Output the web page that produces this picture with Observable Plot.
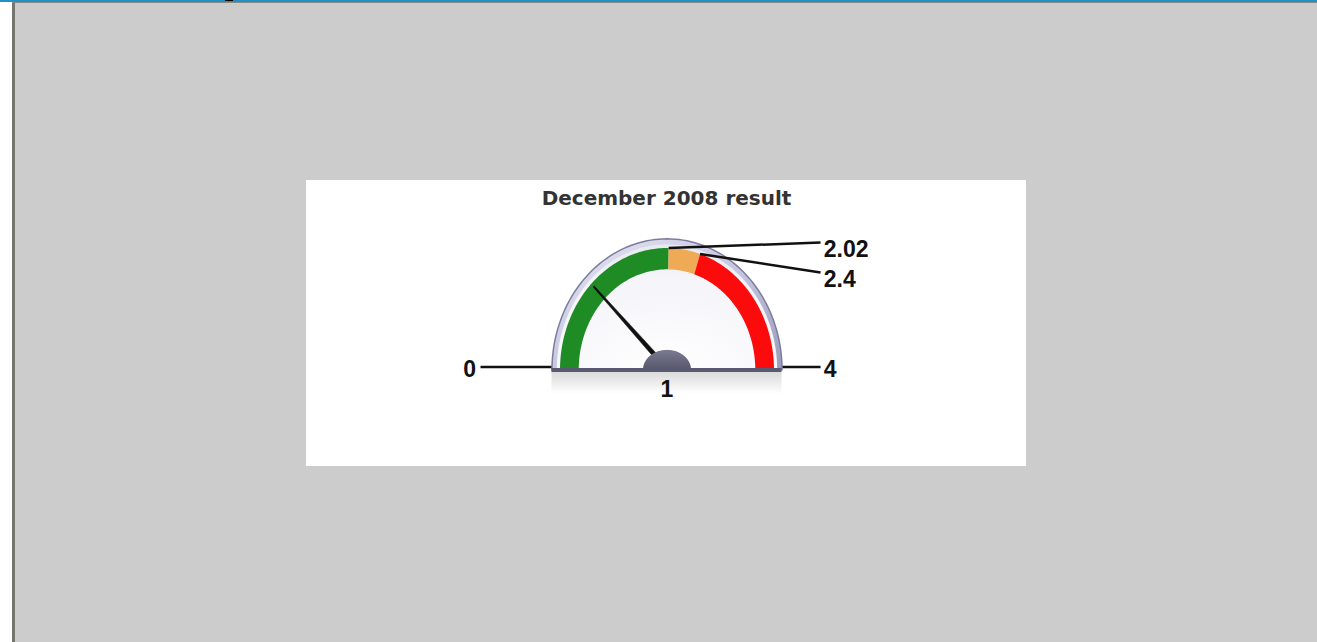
<!DOCTYPE html>
<html>
<head>
<meta charset="utf-8">
<script src="https://cdn.jsdelivr.net/npm/d3@7"></script>
<script src="https://cdn.jsdelivr.net/npm/@observablehq/plot@0.6"></script>
<style>
  html, body { margin: 0; padding: 0; background: #ffffff; }
  body { width: 1317px; height: 642px; position: relative; overflow: hidden; }
  #topbar { position: absolute; left: 0; top: 0; width: 1317px; height: 2px; background: #2190c6; }
  #topbar2 { position: absolute; left: 12px; top: 2px; width: 1305px; height: 1px; background: #8a8a84; }
  #frame { position: absolute; left: 12px; top: 3px; width: 1302px; height: 639px; background: #cccccc; border-left: 3px solid #76766e; }
  #frag { position: absolute; left: 225px; top: 0; width: 8px; height: 1px; background: #000; }
  #chart { position: absolute; left: 306px; top: 180px; width: 720px; height: 286px; background: #ffffff; }
</style>
</head>
<body>
<div id="topbar"></div>
<div id="topbar2"></div>
<div id="frame"></div>
<div id="frag"></div>
<div id="chart"></div>
<script>
// ---- data ----
const chartTitle = "December 2008 result";
const scaleMin = 0;
const scaleMax = 4;
const bandEdges = [0, 2.02, 2.4, 4];
const bandColors = ["#1f8b25", "#eeaa55", "#fb0b0b"];
const needleValue = 1;
const thresholdValues = [2.02, 2.4];
const thresholdLabels = ["2.02", "2.4"];
const endValues = [0, 4];
const endLabels = ["0", "4"];

// ---- layout (styles / positions, not data) ----
const bezelR = 1.075, faceR = 1.03, bandOuter = 1.0, bandInner = 0.825;
const hubRx = 0.225, hubRy = 0.165;
const needleLen = 0.97;
const labelLineX = 1.435, labelTextX = 1.465;
const leftLineX = 1.743, leftTextX = 1.785;
const thresholdLabelY = [1.045, 0.80];
const endLineY = 0.025;

const angle = v => Math.PI * (1 - (v - scaleMin) / (scaleMax - scaleMin));
function ring(v0, v1, r0, r1, n = 90) {
  const pts = [];
  for (let i = 0; i <= n; i++) {
    const a = angle(v0 + (v1 - v0) * i / n);
    pts.push({x: r1 * Math.cos(a), y: r1 * Math.sin(a)});
  }
  for (let i = n; i >= 0; i--) {
    const a = angle(v0 + (v1 - v0) * i / n);
    pts.push({x: r0 * Math.cos(a), y: r0 * Math.sin(a)});
  }
  return pts;
}
function halfEllipse(rx, ry, n = 90) {
  const pts = [];
  for (let i = 0; i <= n; i++) {
    const a = Math.PI * i / n;
    pts.push({x: rx * Math.cos(a), y: ry * Math.sin(a)});
  }
  return pts;
}

const bands = bandColors.map((c, i) => ({color: c, pts: ring(bandEdges[i], bandEdges[i + 1], bandInner, bandOuter)}));

const na = angle(needleValue);
const px = -Math.sin(na), py = Math.cos(na);
const needle = [
  {x: 0.03 * px, y: Math.max(0, 0.03 * py)},
  {x: needleLen * Math.cos(na) + 0.007 * px, y: needleLen * Math.sin(na) + 0.007 * py},
  {x: needleLen * Math.cos(na) - 0.007 * px, y: needleLen * Math.sin(na) - 0.007 * py},
  {x: -0.03 * px, y: Math.max(0, -0.03 * py)}
];

const thresholdLinks = thresholdValues.map((v, i) => ({
  x1: bandOuter * Math.cos(angle(v)), y1: bandOuter * Math.sin(angle(v)),
  x2: labelLineX, y2: thresholdLabelY[i], label: thresholdLabels[i]
}));
const endLinks = endValues.map((v, i) => {
  const side = Math.cos(angle(v)) < 0 ? -1 : 1;
  return {
    x1: side * (bezelR + 0.005), x2: side * (side < 0 ? leftLineX : labelLineX),
    y: endLineY, tx: side * (side < 0 ? leftTextX : labelTextX), label: endLabels[i], side
  };
});

const defs = () => {
  const d = d3.create("svg:defs");
  const g1 = d.append("linearGradient").attr("id", "bezelGrad").attr("x1", 0).attr("y1", 0).attr("x2", 1).attr("y2", 1);
  g1.append("stop").attr("offset", "0%").attr("stop-color", "#e6e6f4");
  g1.append("stop").attr("offset", "55%").attr("stop-color", "#c4c4de");
  g1.append("stop").attr("offset", "100%").attr("stop-color", "#9a9abb");
  const g2 = d.append("radialGradient").attr("id", "faceGrad").attr("cx", "50%").attr("cy", "100%").attr("r", "100%");
  g2.append("stop").attr("offset", "0%").attr("stop-color", "#ffffff");
  g2.append("stop").attr("offset", "75%").attr("stop-color", "#f4f4f9");
  g2.append("stop").attr("offset", "100%").attr("stop-color", "#e8e8f0");
  const g3 = d.append("linearGradient").attr("id", "shadowGrad").attr("x1", 0).attr("y1", 0).attr("x2", 0).attr("y2", 1);
  g3.append("stop").attr("offset", "0%").attr("stop-color", "#000").attr("stop-opacity", 0.16);
  g3.append("stop").attr("offset", "100%").attr("stop-color", "#000").attr("stop-opacity", 0);
  const g4 = d.append("linearGradient").attr("id", "hubGrad").attr("x1", 0).attr("y1", 0).attr("x2", 0).attr("y2", 1);
  g4.append("stop").attr("offset", "0%").attr("stop-color", "#7a7a90");
  g4.append("stop").attr("offset", "100%").attr("stop-color", "#55556c");
  return d.node();
};

const labelStyle = {fontSize: 23, fontWeight: "bold", fill: "#111111"};

const plot = Plot.plot({
  width: 720,
  height: 286,
  margin: 0,
  x: {domain: [-1, 1], range: [253.5, 467.5], axis: null},
  y: {domain: [0, 1], range: [189.5, 67.5], axis: null},
  style: {background: "#ffffff", fontFamily: "'Liberation Sans', Arial, sans-serif"},
  marks: [
    defs,
    Plot.text([chartTitle], {frameAnchor: "top", dy: 10, lineAnchor: "top", fontSize: 20, fontWeight: "bold", fill: "#333333", fontFamily: "'DejaVu Sans', sans-serif", text: d => d}),
    // shadow below gauge
    Plot.rect([{x1: -bezelR, x2: bezelR, y1: 0, y2: -0.2}], {x1: "x1", x2: "x2", y1: "y1", y2: "y2", fill: "url(#shadowGrad)"}),
    // bezel
    Plot.line(halfEllipse(bezelR, bezelR), {x: "x", y: "y", fill: "url(#bezelGrad)", stroke: "#7c7c9e", strokeWidth: 1.5}),
    // face
    Plot.line(halfEllipse(faceR, faceR), {x: "x", y: "y", fill: "url(#faceGrad)", stroke: "none"}),
    // colour bands
    ...bands.map(b => Plot.line(b.pts, {x: "x", y: "y", fill: b.color, stroke: "none"})),
    // needle
    Plot.line(needle, {x: "x", y: "y", fill: "#111111", stroke: "#111111", strokeWidth: 0.5}),
    // hub
    Plot.line(halfEllipse(hubRx, hubRy), {x: "x", y: "y", fill: "url(#hubGrad)", stroke: "none"}),
    // base line
    Plot.ruleY([0], {x1: -bezelR, x2: bezelR, stroke: "#5a5a72", strokeWidth: 4}),
    // threshold leader lines and labels
    Plot.link(thresholdLinks, {x1: "x1", y1: "y1", x2: "x2", y2: "y2", stroke: "#111111", strokeWidth: 2.5}),
    Plot.text(thresholdLinks, {x: () => labelTextX, y: "y2", dy: -2, text: "label", textAnchor: "start", lineAnchor: "top", ...labelStyle}),
    // end leader lines and labels
    Plot.link(endLinks, {x1: "x1", x2: "x2", y1: "y", y2: "y", stroke: "#111111", strokeWidth: 2.5}),
    Plot.text(endLinks.filter(d => d.side < 0), {x: "tx", y: "y", text: "label", textAnchor: "end", lineAnchor: "middle", dy: 3, ...labelStyle}),
    Plot.text(endLinks.filter(d => d.side > 0), {x: "tx", y: "y", text: "label", textAnchor: "start", lineAnchor: "middle", dy: 3, ...labelStyle}),
    // needle value label
    Plot.text([needleValue], {x: () => 0, y: () => -0.085, text: d => String(d), lineAnchor: "top", ...labelStyle})
  ]
});
document.getElementById("chart").appendChild(plot);
</script>
</body>
</html>
